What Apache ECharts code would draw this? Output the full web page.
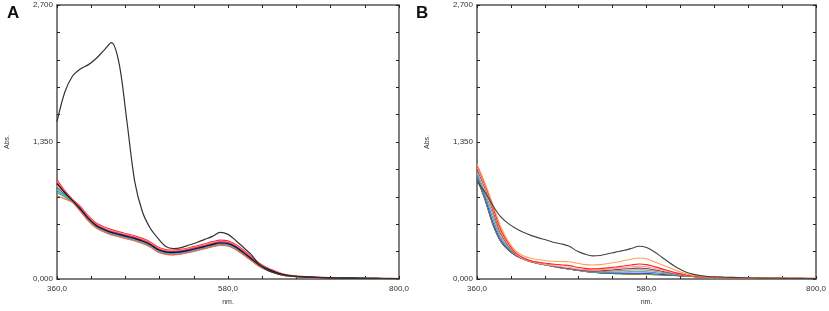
<!DOCTYPE html>
<html>
<head>
<meta charset="utf-8">
<script src="https://cdn.jsdelivr.net/npm/echarts@6/dist/echarts.min.js"></script>
<style>
html,body{margin:0;padding:0;background:#fff;}
#chart{width:829px;height:311px;}
</style>
</head>
<body>
<div id="chart"></div>
<script>
// Wavelengths (nm)
const wavelengths = [360,370,380,390,400,410,420,430,440,450,460,470,480,490,500,510,520,530,540,550,560,570,580,590,600,610,620,630,640,650,660,680,700,720,740,760,780,800];

// Panel A
const aBlack   = [1.55,1.84,2.00,2.07,2.11,2.17,2.25,2.33,2.12,1.55,0.96,0.66,0.50,0.40,0.32,0.30,0.31,0.335,0.36,0.39,0.42,0.46,0.44,0.38,0.31,0.24,0.145,0.09,0.06,0.04,0.03,0.018,0.013,0.01,0.008,0.006,0.005,0.005];
const aRed     = [0.98,0.87,0.785,0.715,0.625,0.555,0.515,0.487,0.465,0.445,0.425,0.40,0.365,0.315,0.29,0.284,0.293,0.308,0.327,0.347,0.368,0.383,0.376,0.34,0.283,0.22,0.158,0.113,0.08,0.052,0.037,0.024,0.017,0.012,0.009,0.007,0.006,0.005];
const aOrange  = [0.96,0.86,0.78,0.705,0.615,0.545,0.505,0.475,0.455,0.435,0.415,0.39,0.355,0.305,0.283,0.277,0.285,0.30,0.318,0.337,0.357,0.372,0.365,0.33,0.274,0.212,0.151,0.108,0.076,0.049,0.035,0.022,0.016,0.011,0.009,0.007,0.006,0.005];
const aMagenta = [0.95,0.855,0.775,0.70,0.608,0.538,0.498,0.468,0.448,0.428,0.408,0.383,0.348,0.298,0.276,0.27,0.278,0.293,0.311,0.33,0.35,0.365,0.358,0.323,0.268,0.207,0.147,0.105,0.074,0.047,0.034,0.021,0.015,0.011,0.008,0.006,0.005,0.004];
const aDark    = [0.94,0.85,0.772,0.69,0.60,0.53,0.49,0.46,0.44,0.42,0.40,0.375,0.34,0.29,0.268,0.262,0.27,0.285,0.303,0.322,0.342,0.357,0.35,0.315,0.26,0.20,0.14,0.10,0.07,0.045,0.032,0.02,0.014,0.01,0.008,0.006,0.005,0.004];
const aYellow  = [0.92,0.84,0.768,0.688,0.596,0.526,0.486,0.456,0.436,0.416,0.396,0.371,0.336,0.286,0.264,0.258,0.266,0.281,0.299,0.318,0.338,0.353,0.346,0.311,0.256,0.197,0.137,0.098,0.068,0.044,0.031,0.019,0.013,0.009,0.007,0.006,0.005,0.004];
const aPurple  = [0.90,0.83,0.765,0.684,0.592,0.522,0.482,0.452,0.432,0.412,0.392,0.367,0.332,0.282,0.26,0.254,0.262,0.277,0.295,0.314,0.334,0.349,0.342,0.307,0.252,0.193,0.134,0.095,0.066,0.042,0.03,0.018,0.013,0.009,0.007,0.005,0.004,0.003];
const aBlue    = [0.87,0.82,0.762,0.68,0.588,0.518,0.478,0.448,0.428,0.408,0.388,0.363,0.328,0.278,0.256,0.25,0.258,0.273,0.291,0.31,0.33,0.345,0.338,0.303,0.249,0.19,0.131,0.093,0.064,0.041,0.029,0.018,0.012,0.009,0.007,0.005,0.004,0.003];
const aCyan    = [0.88,0.822,0.76,0.675,0.583,0.513,0.473,0.443,0.423,0.403,0.383,0.358,0.323,0.273,0.251,0.245,0.253,0.268,0.286,0.305,0.325,0.34,0.333,0.298,0.244,0.186,0.128,0.09,0.062,0.04,0.028,0.017,0.012,0.008,0.006,0.005,0.004,0.003];
const aGreen   = [0.85,0.81,0.758,0.67,0.579,0.509,0.469,0.439,0.419,0.399,0.379,0.354,0.319,0.269,0.247,0.241,0.249,0.264,0.282,0.301,0.321,0.336,0.329,0.294,0.241,0.183,0.126,0.089,0.061,0.039,0.027,0.017,0.011,0.008,0.006,0.005,0.004,0.003];
const aSalmon  = [0.82,0.79,0.755,0.67,0.575,0.505,0.465,0.435,0.415,0.395,0.375,0.35,0.315,0.265,0.243,0.238,0.247,0.262,0.28,0.298,0.318,0.332,0.325,0.29,0.238,0.181,0.125,0.088,0.061,0.039,0.027,0.016,0.011,0.008,0.006,0.005,0.004,0.003];

// Panel B
const bBlackTop = [0.96,0.86,0.73,0.62,0.55,0.50,0.46,0.43,0.405,0.385,0.36,0.345,0.322,0.275,0.245,0.228,0.232,0.248,0.265,0.28,0.30,0.322,0.31,0.268,0.215,0.16,0.11,0.072,0.048,0.033,0.025,0.018,0.014,0.01,0.008,0.006,0.005,0.004];
const bOrange   = [1.13,0.95,0.75,0.53,0.38,0.28,0.23,0.205,0.19,0.18,0.175,0.172,0.17,0.155,0.142,0.138,0.142,0.152,0.165,0.18,0.195,0.207,0.20,0.17,0.14,0.11,0.08,0.055,0.038,0.028,0.022,0.018,0.015,0.012,0.01,0.009,0.008,0.007];
const bRed      = [1.12,0.94,0.73,0.50,0.36,0.26,0.21,0.18,0.165,0.155,0.145,0.138,0.132,0.115,0.105,0.10,0.102,0.11,0.118,0.128,0.138,0.148,0.142,0.122,0.10,0.078,0.058,0.042,0.03,0.022,0.018,0.014,0.012,0.01,0.008,0.007,0.006,0.005];
const bPink     = [1.10,0.92,0.71,0.48,0.345,0.25,0.20,0.172,0.155,0.142,0.13,0.12,0.112,0.10,0.092,0.088,0.09,0.097,0.105,0.113,0.12,0.127,0.122,0.105,0.088,0.07,0.052,0.038,0.028,0.02,0.016,0.013,0.011,0.009,0.008,0.007,0.006,0.005];
const bMaroon   = [1.08,0.90,0.69,0.46,0.335,0.245,0.198,0.17,0.152,0.138,0.125,0.113,0.104,0.092,0.083,0.078,0.08,0.085,0.092,0.098,0.103,0.107,0.103,0.09,0.076,0.062,0.047,0.035,0.026,0.019,0.015,0.013,0.011,0.01,0.009,0.008,0.007,0.006];
const bGray     = [1.05,0.86,0.65,0.43,0.32,0.24,0.195,0.168,0.15,0.135,0.122,0.11,0.10,0.088,0.078,0.072,0.072,0.076,0.08,0.084,0.087,0.09,0.087,0.077,0.066,0.055,0.043,0.033,0.025,0.019,0.015,0.013,0.011,0.01,0.012,0.01,0.006,0.005];
const bTeal     = [1.03,0.83,0.61,0.41,0.31,0.238,0.20,0.172,0.153,0.138,0.124,0.11,0.099,0.086,0.075,0.067,0.064,0.065,0.067,0.069,0.071,0.072,0.07,0.063,0.055,0.047,0.038,0.03,0.024,0.019,0.015,0.012,0.01,0.009,0.008,0.007,0.006,0.005];
const bBlue     = [1.01,0.81,0.57,0.39,0.30,0.235,0.20,0.174,0.154,0.139,0.124,0.11,0.099,0.087,0.077,0.068,0.062,0.058,0.057,0.057,0.057,0.057,0.055,0.05,0.045,0.04,0.035,0.03,0.025,0.021,0.018,0.015,0.012,0.01,0.008,0.007,0.006,0.005];
const bYellow   = [1.00,0.80,0.56,0.385,0.295,0.235,0.20,0.175,0.156,0.14,0.125,0.11,0.10,0.088,0.078,0.068,0.062,0.058,0.055,0.052,0.05,0.05,0.048,0.045,0.042,0.038,0.034,0.03,0.026,0.022,0.02,0.016,0.013,0.01,0.008,0.006,0.005,0.004];
const bBlackLow = [0.99,0.79,0.55,0.38,0.29,0.232,0.198,0.173,0.154,0.138,0.123,0.109,0.098,0.086,0.076,0.066,0.06,0.056,0.053,0.05,0.048,0.048,0.046,0.043,0.04,0.036,0.032,0.028,0.024,0.021,0.018,0.015,0.012,0.01,0.008,0.006,0.005,0.003];

// Axis ticks
const xMin = 360, xMax = 800, xStep = 44;
const xLabelValues = [360, 580, 800];
const yMin = 0, yMax = 2.7, yStep = 0.27;
const yLabelValues = [0, 1.35, 2.7];

const seriesA = [
  ['#ff2a2a', aRed], ['#ff9a40', aOrange], ['#e020e0', aMagenta], ['#e8d800', aYellow],
  ['#8040c0', aPurple], ['#3050ff', aBlue], ['#30d8e0', aCyan], ['#30c030', aGreen],
  ['#ff6060', aSalmon], ['#111111', aDark], ['#333333', aBlack]
];
const seriesB = [
  ['#111111', bBlackLow], ['#d8c800', bYellow], ['#3040ff', bBlue], ['#40a0a0', bTeal],
  ['#999999', bGray], ['#904040', bMaroon], ['#f0a0a0', bPink], ['#ff2020', bRed],
  ['#ffa050', bOrange], ['#444444', bBlackTop]
];

const fmtX = v => xLabelValues.some(t => Math.abs(t - v) < 1e-6) ? v.toFixed(1).replace('.', ',') : '';
const fmtY = v => yLabelValues.some(t => Math.abs(t - v) < 1e-6) ? v.toFixed(3).replace('.', ',') : '';

const font = 'Liberation Sans, Arial, sans-serif';
const lineStyleAxis = { color: '#555', width: 1.5 };
const tickStyle = { show: true, inside: true, length: 3, lineStyle: { color: '#222', width: 1 } };

const grids = [
  { left: 57, top: 5, width: 342, height: 282 },
  { left: 477, top: 5, width: 342, height: 280 }
];

const xAxes = [], yAxes = [], series = [];
[0, 1].forEach(g => {
  xAxes.push({
    type: 'value', gridIndex: g, min: xMin, max: xMax, interval: xStep, position: 'bottom',
    axisLine: { show: true, onZero: false, lineStyle: lineStyleAxis },
    axisTick: tickStyle, splitLine: { show: false },
    axisLabel: { formatter: fmtX, fontSize: 8, color: '#333', margin: 6, fontFamily: font, showMinLabel: true, showMaxLabel: true },
    name: 'nm.', nameLocation: 'middle', nameGap: 20,
    nameTextStyle: { fontSize: 7, color: '#333', fontFamily: font }
  });
  xAxes.push({
    type: 'value', gridIndex: g, min: xMin, max: xMax, interval: xStep, position: 'top',
    axisLine: { show: true, onZero: false, lineStyle: lineStyleAxis },
    axisTick: tickStyle, splitLine: { show: false }, axisLabel: { show: false }
  });
  yAxes.push({
    type: 'value', gridIndex: g, min: yMin, max: yMax, interval: yStep, position: 'left',
    axisLine: { show: true, onZero: false, lineStyle: lineStyleAxis },
    axisTick: tickStyle, splitLine: { show: false },
    axisLabel: { formatter: fmtY, fontSize: 8, color: '#333', margin: 4, fontFamily: font, showMinLabel: true, showMaxLabel: true },
    name: 'Abs.', nameLocation: 'middle', nameGap: 46, nameRotate: 90,
    nameTextStyle: { fontSize: 7, color: '#333', fontFamily: font }
  });
  yAxes.push({
    type: 'value', gridIndex: g, min: yMin, max: yMax, interval: yStep, position: 'right',
    axisLine: { show: true, onZero: false, lineStyle: lineStyleAxis },
    axisTick: tickStyle, splitLine: { show: false }, axisLabel: { show: false }
  });
});

function addSeries(list, g, width) {
  list.forEach(([color, vals]) => {
    series.push({
      type: 'line', xAxisIndex: g * 2, yAxisIndex: g * 2,
      data: wavelengths.map((w, i) => [w, vals[i]]),
      showSymbol: false, symbol: 'none', smooth: 0.3,
      lineStyle: { color: color, width: width }, silent: true, animation: false
    });
  });
}
addSeries(seriesA, 0, 1.2);
addSeries(seriesB, 1, 1.1);

const chart = echarts.init(document.getElementById('chart'), null, { renderer: 'canvas' });
chart.setOption({
  animation: false,
  backgroundColor: '#ffffff',
  grid: grids,
  xAxis: xAxes,
  yAxis: yAxes,
  series: series,
  graphic: [
    { type: 'text', left: 7, top: 5, style: { text: 'A', fontSize: 17, fontWeight: 'bold', fill: '#111', fontFamily: font } },
    { type: 'text', left: 416, top: 5, style: { text: 'B', fontSize: 17, fontWeight: 'bold', fill: '#111', fontFamily: font } }
  ]
});
</script>
</body>
</html>
